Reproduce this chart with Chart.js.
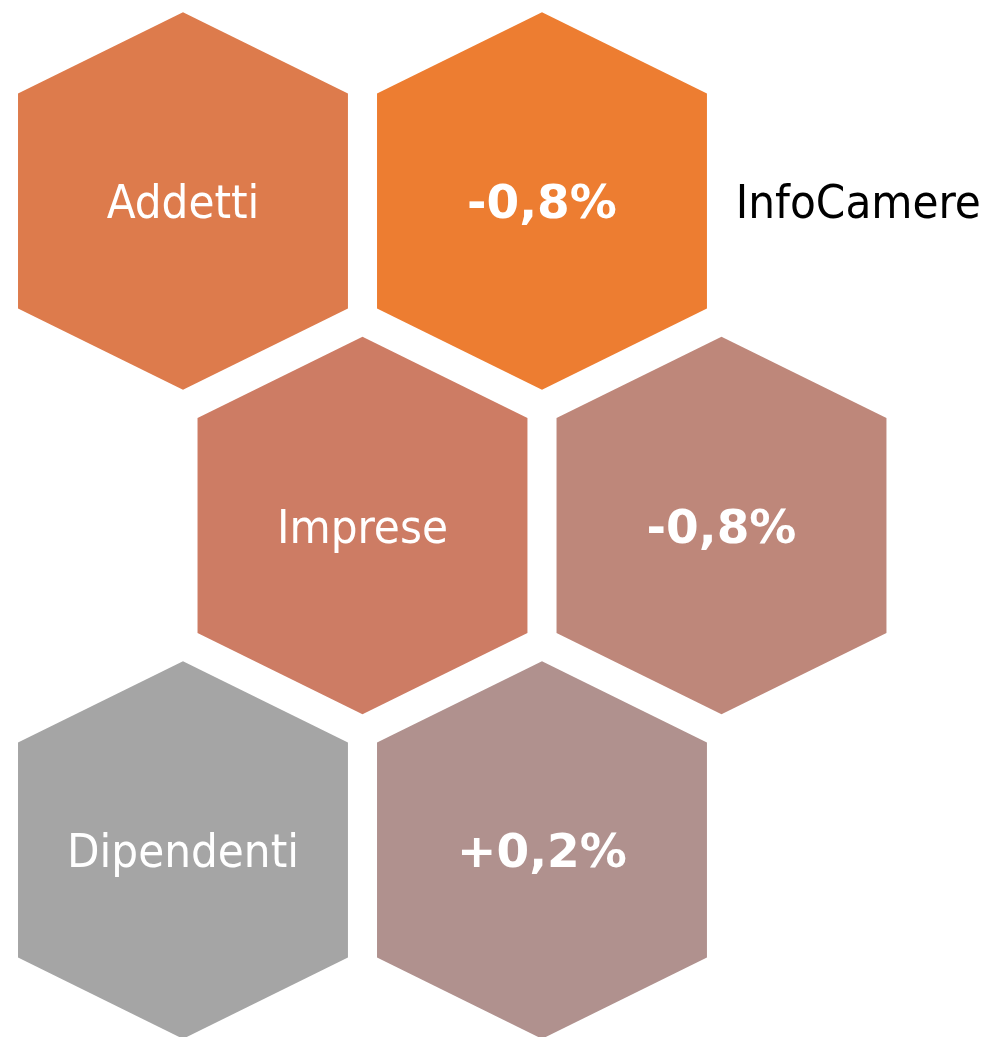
<!DOCTYPE html>
<html lang="it">
<head>
<meta charset="utf-8">
<title>Addetti, Imprese, Dipendenti</title>
<script src="https://cdn.jsdelivr.net/npm/chart.js@4/dist/chart.umd.min.js"></script>
<style>
  html, body { margin: 0; padding: 0; background: #ffffff; }
  #wrap { width: 985px; height: 1037px; position: relative; }
</style>
</head>
<body>
<div id="wrap"><canvas id="hexChart"></canvas></div>
<script>
// --- dati ---
const categorie = ['Addetti', 'Imprese', 'Dipendenti'];
const variazioni = [-0.8, -0.8, 0.2];          // variazione %
const coloriCategorie = ['#DD7B4C', '#CD7C64', '#A5A5A5'];
const coloriVariazioni = ['#ED7D31', '#BE877A', '#B0918E'];
const fonte = 'InfoCamere';

// geometria esagoni (in unità di griglia)
const HEX_W = 0.919;   // larghezza rispetto al passo orizzontale
const HEX_HH = 0.582;  // mezza altezza (vertice)
const HEX_SH = 0.331;  // mezza altezza dei lati verticali

function formatVar(v) {
    return (v > 0 ? '+' : '') + v.toFixed(1).replace('.', ',') + '%';
}

// righe sfalsate: la riga dispari è spostata di mezzo passo
const puntiCategorie = categorie.map((c, i) => ({ x: (i % 2) * 0.5, y: i }));
const puntiVariazioni = variazioni.map((v, i) => ({ x: (i % 2) * 0.5 + 1, y: i }));

const FONT_REG = '47px "DejaVu Sans Condensed", "DejaVu Sans", sans-serif';
const FONT_BOLD = 'bold 47px "DejaVu Sans", sans-serif';

const pluginEsagoni = {
    id: 'esagoni',
    beforeDatasetsDraw(chart) {
        const { ctx, scales: { x, y } } = chart;
        const hw = Math.abs(x.getPixelForValue(HEX_W / 2) - x.getPixelForValue(0));
        const hh = Math.abs(y.getPixelForValue(HEX_HH) - y.getPixelForValue(0));
        const sh = Math.abs(y.getPixelForValue(HEX_SH) - y.getPixelForValue(0));

        ctx.save();
        chart.data.datasets.forEach((ds, di) => {
            const meta = chart.getDatasetMeta(di);
            meta.data.forEach((pt, i) => {
                const cx = pt.x, cy = pt.y;
                ctx.beginPath();
                ctx.moveTo(cx, cy - hh);
                ctx.lineTo(cx + hw, cy - sh);
                ctx.lineTo(cx + hw, cy + sh);
                ctx.lineTo(cx, cy + hh);
                ctx.lineTo(cx - hw, cy + sh);
                ctx.lineTo(cx - hw, cy - sh);
                ctx.closePath();
                ctx.fillStyle = ds.coloriEsagoni[i];
                ctx.fill();

                ctx.fillStyle = '#ffffff';
                ctx.textAlign = 'center';
                ctx.textBaseline = 'alphabetic';
                ctx.font = ds.bold ? FONT_BOLD : FONT_REG;
                ctx.fillText(ds.testi[i], cx, cy + 17.5);
            });
        });

        // fonte a destra del primo esagono valore
        const p0 = chart.getDatasetMeta(1).data[0];
        ctx.fillStyle = '#000000';
        ctx.textAlign = 'left';
        ctx.font = FONT_REG;
        ctx.fillText(fonte, x.getPixelForValue(1.54), p0.y + 17.5);
        ctx.restore();
    }
};

new Chart(document.getElementById('hexChart'), {
    type: 'scatter',
    data: {
        datasets: [
            {
                label: 'Categoria',
                data: puntiCategorie,
                testi: categorie,
                coloriEsagoni: coloriCategorie,
                bold: false,
                pointRadius: 0
            },
            {
                label: 'Variazione',
                data: puntiVariazioni,
                testi: variazioni.map(formatVar),
                coloriEsagoni: coloriVariazioni,
                bold: true,
                pointRadius: 0
            }
        ]
    },
    options: {
        responsive: true,
        maintainAspectRatio: false,
        animation: false,
        layout: { padding: 0 },
        plugins: {
            legend: { display: false },
            tooltip: { enabled: false }
        },
        scales: {
            x: { type: 'linear', display: false, min: -0.5097, max: 2.234 },
            y: { type: 'linear', display: false, reverse: true, min: -0.6194, max: 2.5763 }
        }
    },
    plugins: [pluginEsagoni]
});
</script>
</body>
</html>
